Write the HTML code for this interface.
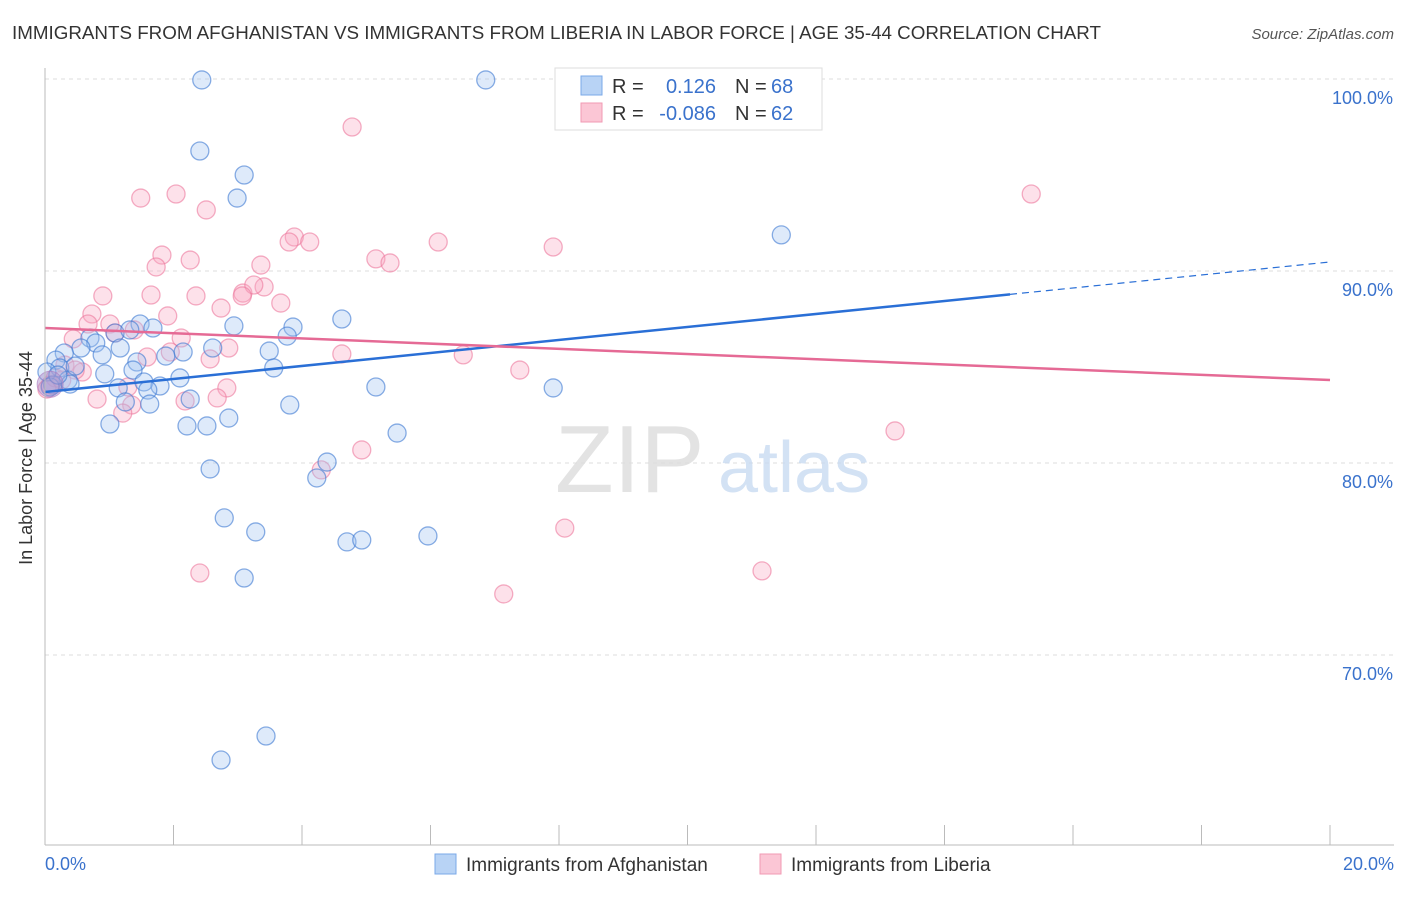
<!DOCTYPE html>
<html><head><meta charset="utf-8"><style>
body{margin:0;background:#fff;font-family:"Liberation Sans",sans-serif}
svg text{font-family:"Liberation Sans",sans-serif}
</style></head><body>
<svg id="chart" width="1406" height="892" viewBox="0 0 1406 892" xmlns="http://www.w3.org/2000/svg">
<text x="12" y="39" font-size="18" fill="#333" textLength="1089" lengthAdjust="spacingAndGlyphs">IMMIGRANTS FROM AFGHANISTAN VS IMMIGRANTS FROM LIBERIA IN LABOR FORCE | AGE 35-44 CORRELATION CHART</text>
<text x="1394" y="39" font-size="15" fill="#555" font-style="italic" text-anchor="end">Source: ZipAtlas.com</text>
<g id="grid"></g>
<g><text x="555" y="492" font-size="96" font-family="Liberation Serif" fill="#ddd" opacity="0.8">ZIP</text><text x="718" y="492" font-size="72" fill="#c9dbf2" opacity="0.8">atlas</text></g>
<g id="pts"></g>
<g id="trends"></g>
<g id="axes"></g>
<text x="32" y="458" font-size="18" fill="#333" text-anchor="middle" transform="rotate(-90 32 458)">In Labor Force | Age 35-44</text>
<g>
<rect x="555" y="68" width="267" height="62" fill="#fff" stroke="#ddd"/>
<rect x="581" y="76" width="21" height="19" fill="#b8d3f5" stroke="#7aa8e8"/>
<rect x="581" y="103" width="21" height="19" fill="#fbc6d5" stroke="#f09ab3"/>
<text x="612" y="93" font-size="20" fill="#333">R =</text><text x="716" y="93" font-size="20" fill="#3a72cc" text-anchor="end">0.126</text>
<text x="735" y="93" font-size="20" fill="#333">N =</text><text x="771" y="93" font-size="20" fill="#3a72cc">68</text>
<text x="612" y="120" font-size="20" fill="#333">R =</text><text x="716" y="120" font-size="20" fill="#3a72cc" text-anchor="end">-0.086</text>
<text x="735" y="120" font-size="20" fill="#333">N =</text><text x="771" y="120" font-size="20" fill="#3a72cc">62</text>
</g>
<g>
<rect x="435" y="854" width="21" height="20" fill="#b8d3f5" stroke="#7aa8e8"/>
<text x="466" y="871" font-size="19" fill="#333">Immigrants from Afghanistan</text>
<rect x="760" y="854" width="21" height="20" fill="#fbc6d5" stroke="#f09ab3"/>
<text x="791" y="871" font-size="19" fill="#333">Immigrants from Liberia</text>
</g>
</svg>
<script>
const blueX=[2.44,6.86,10.41,2.41,3.10,2.99,11.46,4.62,3.86,2.94,1.48,1.68,3.77,1.09,0.70,0.79,1.32,1.17,0.56,0.30,2.61,3.49,2.15,1.88,0.17,1.43,0.89,0.93,1.37,3.56,0.23,0.03,0.36,0.39,1.54,1.79,2.10,1.60,1.14,5.15,7.91,2.26,1.25,1.63,3.81,1.01,2.21,2.52,2.86,5.48,4.39,2.57,4.23,2.79,3.28,4.70,4.93,5.96,3.10,3.44,2.74,0.12,0.08,0.20,0.47];
const blueY=[99.95,99.95,100.0,96.25,95.0,93.80,91.88,87.5,87.08,87.14,87.24,87.03,86.61,86.77,86.51,86.25,86.93,85.99,85.99,85.73,85.99,85.83,85.78,85.57,85.36,85.26,85.63,84.64,84.84,84.95,84.95,84.74,84.32,84.11,84.22,84.01,84.43,83.80,83.91,83.96,83.91,83.33,83.18,83.07,83.02,82.03,81.93,81.93,82.34,81.56,80.05,79.69,79.22,77.14,76.41,75.89,75.99,76.20,74.01,65.78,64.53,84.06,83.96,84.58,85.05];
const pinkX=[4.78,1.49,2.04,2.51,15.35,3.88,3.80,4.12,6.12,7.91,1.82,2.26,1.73,5.15,5.37,3.36,0.90,1.65,2.35,3.08,3.41,3.25,3.07,3.67,2.74,0.73,1.91,0.67,1.01,1.09,1.39,2.86,2.12,0.44,4.62,6.51,1.59,2.57,0.31,0.58,7.39,1.29,2.83,0.81,2.18,2.68,1.35,1.21,13.23,4.93,4.30,8.09,2.41,11.16,7.14,0.08,0.16,0.47,0.03,0.26,1.95];
const pinkY=[97.5,93.80,94.01,93.18,94.01,91.77,91.51,91.51,91.51,91.25,90.83,90.57,90.21,90.63,90.42,90.31,88.70,88.75,88.70,88.85,89.17,89.27,88.70,88.33,88.07,87.76,87.66,87.24,87.24,86.77,86.93,85.99,86.51,86.46,85.68,85.63,85.52,85.42,85.10,84.74,84.84,83.96,83.91,83.33,83.23,83.39,83.02,82.60,81.67,80.68,79.64,76.61,74.27,74.38,73.18,84.06,84.43,84.84,83.85,84.32,85.78];
const blueTrend=[83.70,90.47];
const pinkTrend=[87.03,84.32];
const blueSolidEnd=15.02;
const yTicks=[100,90,80,70];
const xTicks=[0,2,4,6,8,10,12,14,16,18,20];
const NS='http://www.w3.org/2000/svg';
const sx=v=>45+v/20*1285;
const sy=v=>79+(100-v)*19.2;
function mk(tag,attrs,parent){const e=document.createElementNS(NS,tag);for(const k in attrs)e.setAttribute(k,attrs[k]);parent.appendChild(e);return e;}
const grid=document.getElementById('grid'),axes=document.getElementById('axes'),pts=document.getElementById('pts'),tr=document.getElementById('trends');
yTicks.forEach(t=>{
 const l=mk('line',{x1:45,x2:1394,y1:sy(t),y2:sy(t),stroke:'#ddd','stroke-dasharray':'4 4'},grid);
 
 
 const tx=mk('text',{x:1393,y:sy(t)+25,'font-size':18,fill:'#3a72cc','text-anchor':'end'},axes);
 tx.textContent=t.toFixed(1)+'%';
 
 
});
mk('line',{x1:45,x2:45,y1:68,y2:845,stroke:'#bbb'},axes);
mk('line',{x1:45,x2:1394,y1:845,y2:845,stroke:'#bbb'},axes);
xTicks.forEach(t=>{
 const l=mk('line',{x1:sx(t),x2:sx(t),y1:825,y2:845,stroke:'#bbb'},axes);
 
 
});
const xl0=mk('text',{x:45,y:870,'font-size':18,fill:'#3a72cc'},axes);xl0.textContent='0.0%';


const xl1=mk('text',{x:1394,y:870,'font-size':18,fill:'#3a72cc','text-anchor':'end'},axes);xl1.textContent='20.0%';


pinkX.forEach((x,i)=>{
 const c=mk('circle',{cx:sx(x),cy:sy(pinkY[i]),r:9,fill:'rgba(248,170,195,0.35)',stroke:'rgba(236,120,156,0.6)','stroke-width':1.3},pts);
 
 
});
blueX.forEach((x,i)=>{
 const c=mk('circle',{cx:sx(x),cy:sy(blueY[i]),r:9,fill:'rgba(160,196,240,0.35)',stroke:'rgba(60,120,210,0.6)','stroke-width':1.3},pts);
 
 
});
const big=mk('circle',{cx:sx(0.08),cy:sy(84.1),r:13,fill:'rgba(170,140,200,0.45)',stroke:'rgba(170,120,190,0.6)'},pts);


const bt=x=>blueTrend[0]+(blueTrend[1]-blueTrend[0])*x/20;
const b1=mk('line',{x1:sx(0),y1:sy(bt(0)),x2:sx(blueSolidEnd),y2:sy(bt(blueSolidEnd)),stroke:'#2a6fd6','stroke-width':2.5},tr);


const b2=mk('line',{x1:sx(blueSolidEnd),y1:sy(bt(blueSolidEnd)),x2:sx(20),y2:sy(bt(20)),stroke:'#2a6fd6','stroke-width':1.2,'stroke-dasharray':'7 5'},tr);


const p1=mk('line',{x1:sx(0),y1:sy(pinkTrend[0]),x2:sx(20),y2:sy(pinkTrend[1]),stroke:'#e56a95','stroke-width':2.5},tr);


</script>
</body></html>
